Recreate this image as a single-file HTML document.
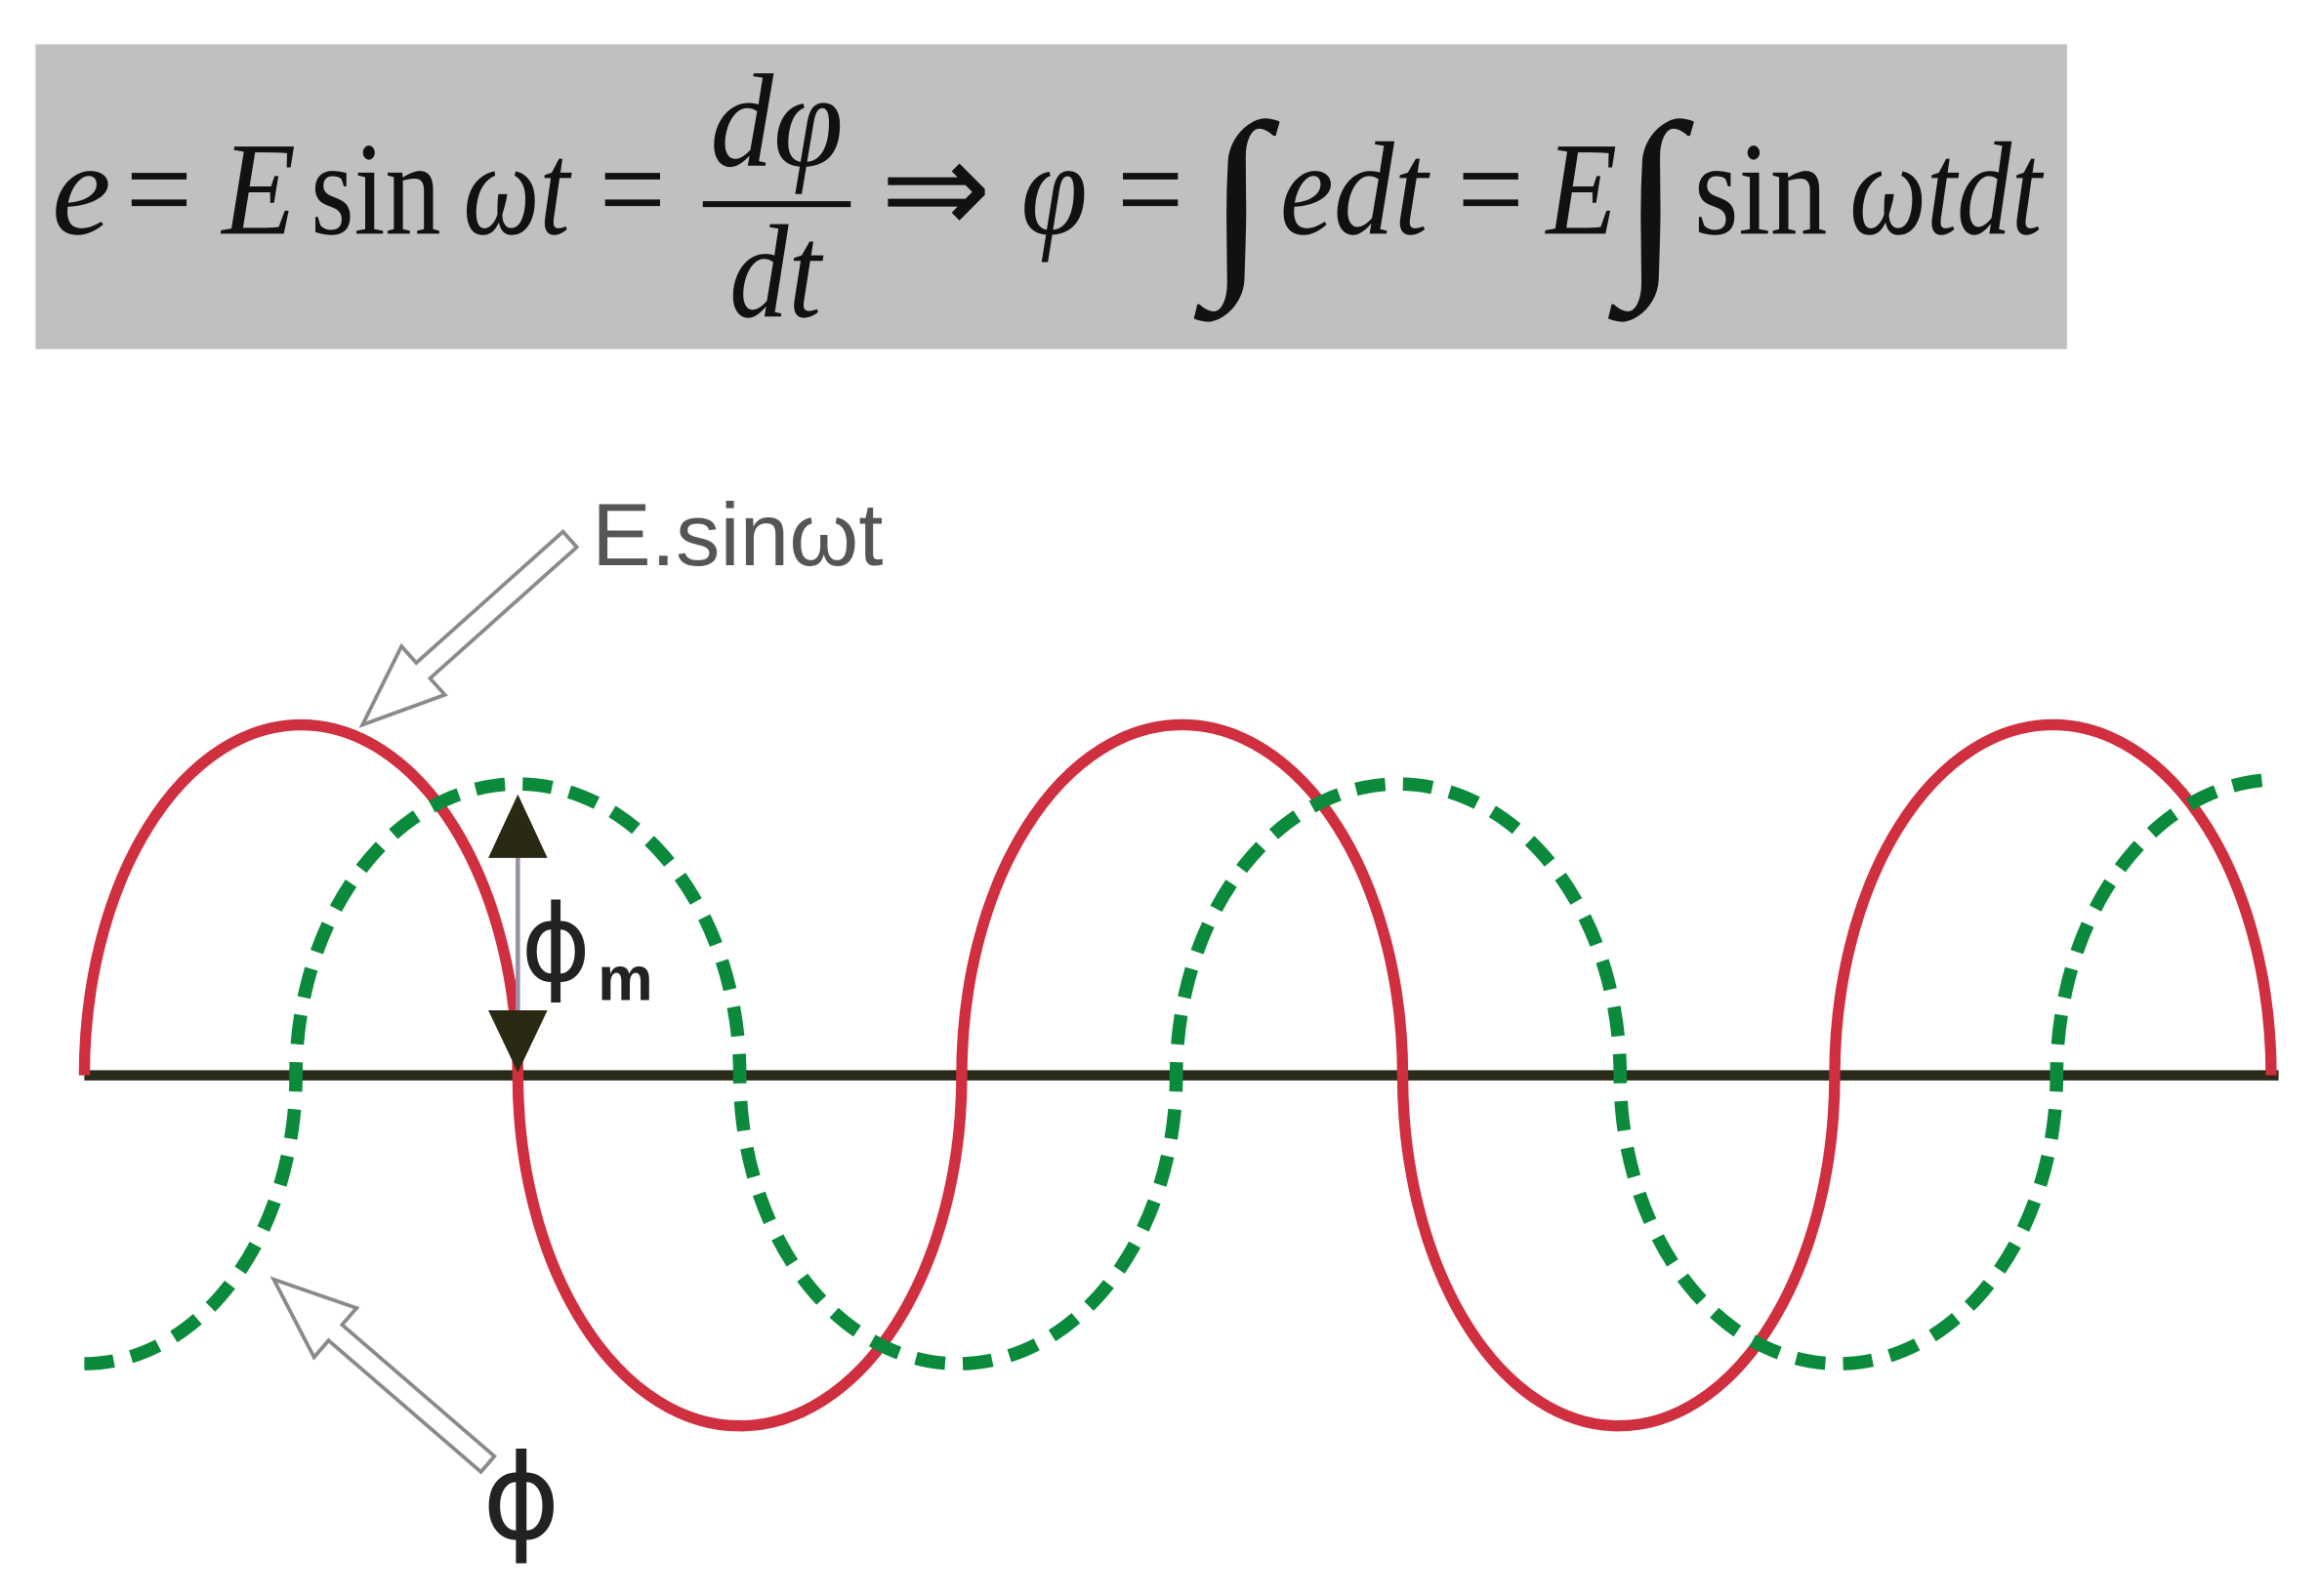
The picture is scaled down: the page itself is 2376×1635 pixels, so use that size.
<!DOCTYPE html>
<html><head><meta charset="utf-8"><style>html,body{margin:0;padding:0;background:#fff}svg{display:block}</style></head>
<body>
<svg width="2376" height="1635" viewBox="0 0 1568 1079" xmlns="http://www.w3.org/2000/svg">
<rect x="24" y="30" width="1373" height="206" fill="#c0c0c0"/>
<g style="font-family:'Liberation Serif','Times New Roman',serif" font-size="90" fill="#111">
<text x="35" y="158" font-style="italic" textLength="40" lengthAdjust="spacingAndGlyphs">e</text>
<text x="85" y="158" textLength="45" lengthAdjust="spacingAndGlyphs">=</text>
<text x="150" y="158" font-style="italic" textLength="50" lengthAdjust="spacingAndGlyphs">E</text>
<text x="210" y="158" textLength="88" lengthAdjust="spacingAndGlyphs">sin</text>
<text x="313" y="158" font-style="italic" textLength="72" lengthAdjust="spacingAndGlyphs">ωt</text>
<text x="405" y="158" textLength="45" lengthAdjust="spacingAndGlyphs">=</text>
<text x="480" y="112" font-style="italic" textLength="90" lengthAdjust="spacingAndGlyphs">dφ</text>
<rect x="475" y="136" width="100" height="4" fill="#111"/>
<text x="493" y="214" font-style="italic" textLength="62" lengthAdjust="spacingAndGlyphs">dt</text>
<text x="595" y="158" textLength="75" lengthAdjust="spacingAndGlyphs">⇒</text>
<text x="690" y="158" font-style="italic" textLength="45" lengthAdjust="spacingAndGlyphs">φ</text>
<text x="755" y="158" textLength="45" lengthAdjust="spacingAndGlyphs">=</text>
<text x="815" y="180" font-size="140" textLength="42" lengthAdjust="spacingAndGlyphs">∫</text>
<text x="865" y="158" font-style="italic" textLength="100" lengthAdjust="spacingAndGlyphs">edt</text>
<text x="985" y="158" textLength="45" lengthAdjust="spacingAndGlyphs">=</text>
<text x="1045" y="158" font-style="italic" textLength="48" lengthAdjust="spacingAndGlyphs">E</text>
<text x="1095" y="180" font-size="140" textLength="42" lengthAdjust="spacingAndGlyphs">∫</text>
<text x="1145" y="158" textLength="90" lengthAdjust="spacingAndGlyphs">sin</text>
<text x="1250" y="158" font-style="italic" textLength="130" lengthAdjust="spacingAndGlyphs">ωtdt</text>
</g>
<line x1="57" y1="727" x2="1540" y2="727" stroke="#2b2b1a" stroke-width="7"/>
<path d="M57,727 A146.5,237 0 0 1 350,727 A150,237 0 0 0 650,727 A149,237 0 0 1 948,727 A146,237 0 0 0 1240,727 A147.5,237 0 0 1 1535,727" fill="none" stroke="#cf2f3e" stroke-width="7.5"/>
<path d="M57,922 A143,195 0 0 0 200,727 A150,197 0 0 1 500,727 A147.5,195 0 0 0 795,727 A150,197 0 0 1 1095,727 A147.5,195 0 0 0 1390,727 A150,200 0 0 1 1540,527" fill="none" stroke="#0b8a3c" stroke-width="9" stroke-dasharray="20,12"/>
<g transform="translate(245,490) rotate(-41.8)">
<polygon points="0,0 55,-22 55,-7 188,-7 188,7 55,7 55,22" fill="#fff" stroke="#8a8a8a" stroke-width="2.5"/>
</g>
<g transform="translate(185,865) rotate(40.8)">
<polygon points="0,0 55,-22 55,-7 191,-7 191,7 55,7 55,22" fill="#fff" stroke="#8a8a8a" stroke-width="2.5"/>
</g>
<line x1="350" y1="570" x2="350" y2="690" stroke="#9a90a8" stroke-width="3"/>
<polygon points="350,537 330,580 370,580" fill="#2a2a14"/>
<polygon points="350,725 330,683 370,683" fill="#2a2a14"/>
<text x="400" y="382" style="font-family:'Liberation Sans','DejaVu Sans',sans-serif" font-size="60" fill="#555">E.sinωt</text>
<text x="352" y="663" style="font-family:'DejaVu Sans',sans-serif" font-size="72" fill="#222">ϕ</text>
<text x="404" y="676" style="font-family:'Liberation Sans',sans-serif" font-size="42" font-weight="bold" fill="#222">m</text>
<text x="326" y="1040" style="font-family:'DejaVu Sans',sans-serif" font-size="80" fill="#222">ϕ</text>
</svg>
</body></html>
